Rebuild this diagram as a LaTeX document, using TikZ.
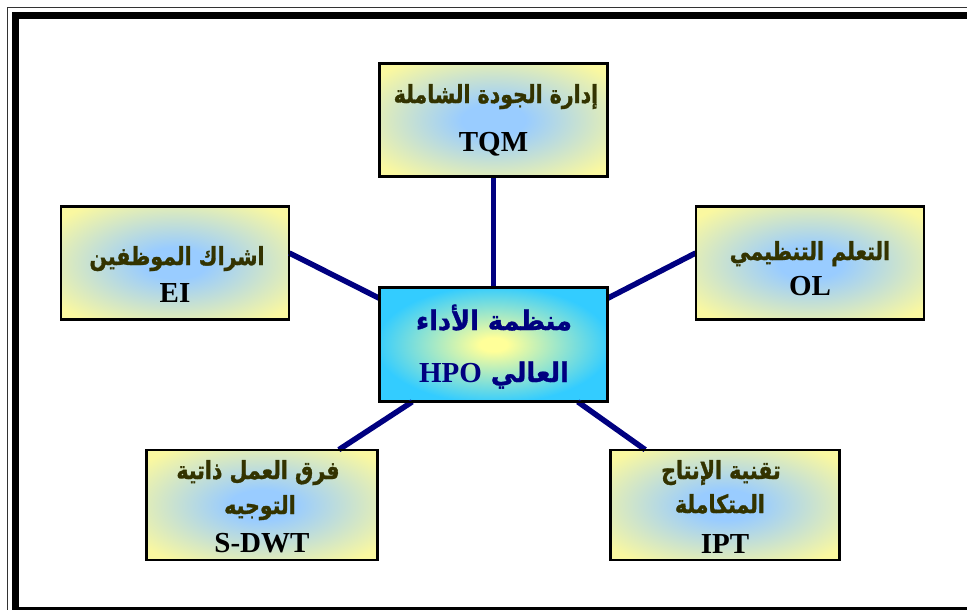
\documentclass[tikz,border=0pt]{standalone}
\usepackage{fontspec}
\setmainfont{Liberation Serif}
\newfontfamily\arabicfont[Script=Arabic, FakeStretch=0.82, FakeBold=1.3]{DejaVu Sans}
\newfontfamily\arabichub[Script=Arabic, FakeStretch=0.95, FakeBold=1.2]{DejaVu Sans}
\TeXXeTstate=1

\definecolor{leafyellow}{RGB}{250,248,160}
\definecolor{leafblue}{RGB}{153,204,255}
\definecolor{hubcyan}{RGB}{51,204,255}
\definecolor{hubyellow}{RGB}{255,255,153}
\definecolor{navyline}{RGB}{0,0,128}
\definecolor{olivetext}{RGB}{51,51,0}

% soft centre-to-edge fills of the boxes
\pgfdeclareradialshading{leafshade}{\pgfpoint{0bp}{0bp}}{%
  color(0bp)=(leafblue); color(7bp)=(leafblue); color(32bp)=(leafyellow); color(50bp)=(leafyellow)}
\pgfdeclareradialshading{hubshade}{\pgfpoint{0bp}{0bp}}{%
  color(0bp)=(hubyellow); color(3bp)=(hubyellow); color(26bp)=(hubcyan); color(50bp)=(hubcyan)}

\tikzset{
  box/.style={rectangle, draw=black, line width=1.6pt, inner sep=0pt},
  leaf/.style={box, shade, shading=leafshade, minimum width=227pt, minimum height=112pt},
  hub/.style={box, shade, shading=hubshade, minimum width=227pt, minimum height=113pt},
  link/.style={draw=navyline, line width=5.5pt},
  artext/.style={anchor=base, inner sep=0pt, text=olivetext,
    font=\arabicfont\bfseries\fontsize{25}{29}\selectfont},
  entext/.style={anchor=base, inner sep=0pt, text=black,
    font=\bfseries\fontsize{29}{34}\selectfont},
  hubtext/.style={anchor=base, inner sep=0pt, text=navyline,
    font=\arabichub\bfseries\fontsize{27}{31}\selectfont},
}
\newcommand{\latinpart}[1]{{\rmfamily\bfseries\fontsize{29}{34}\selectfont #1}}

\begin{document}
\begin{tikzpicture}[x=1pt,y=-1pt]
  \useasboundingbox (0,0) rectangle (967,610);
  \clip (0,0) rectangle (967,610);

  % double page frame
  \draw[line width=1.6pt, draw=black!80] (7.5,7.5) rectangle (982,622);
  \draw[line width=7pt, draw=black] (15.5,15.5) rectangle (974,610.5);

  % boxes
  \node[hub]  (hpo)  at (493.5,344.5) {};
  \node[leaf] (tqm)  at (493.5,120) {};
  \node[leaf] (ei)   at (175,263) {};
  \node[leaf] (ol)   at (810,263) {};
  \node[leaf, minimum width=230pt, minimum height=109pt] (sdwt) at (262,505) {};
  \node[leaf, minimum width=228pt, minimum height=109pt] (ipt)  at (725,505) {};

  % spokes from the hub
  \draw[link] (tqm.south) -- (hpo.north);
  \draw[link] ([yshift=10pt]ei.east) -- ([yshift=-11pt]hpo.north west);
  \draw[link] ([yshift=10pt]ol.west) -- ([yshift=-11pt]hpo.north east);
  \draw[link] ([xshift=-39pt]sdwt.north east) -- ([xshift=33pt]hpo.south west);
  \draw[link] ([xshift=35pt]ipt.north west) -- ([xshift=-30pt]hpo.south east);

  % redraw box outlines over the spoke ends
  \foreach \b in {hpo,tqm,ei,ol,sdwt,ipt}
    \draw[line width=1.6pt] (\b.north west) rectangle (\b.south east);

  % labels
  \node[artext] (tqm-ar) at (496,103) {\beginR إدارة الجودة الشاملة\endR};
  \node[entext] (tqm-en) at (493.5,151) {TQM};

  \node[artext] (ei-ar) at (177,265) {\beginR اشراك الموظفين\endR};
  \node[entext] (ei-en) at (175,302) {EI};

  \node[artext] (ol-ar) at (810,260) {\beginR التعلم التنظيمي\endR};
  \node[entext] (ol-en) at (810,295) {OL};

  \node[hubtext] (hpo-l1) at (494,330) {\beginR منظمة الأداء\endR};
  \node[hubtext] (hpo-l2) at (494,382) {\beginR العالي \beginL\latinpart{HPO}\endL\endR};

  \node[artext] (sdwt-l1) at (258,479) {\beginR فرق العمل ذاتية\endR};
  \node[artext] (sdwt-l2) at (260,514) {\beginR التوجيه\endR};
  \node[entext] (sdwt-en) at (262,552) {S-DWT};

  \node[artext] (ipt-l1) at (721,479) {\beginR تقنية الإنتاج\endR};
  \node[artext] (ipt-l2) at (720,513) {\beginR المتكاملة\endR};
  \node[entext] (ipt-en) at (725,553) {IPT};
\end{tikzpicture}
\end{document}
